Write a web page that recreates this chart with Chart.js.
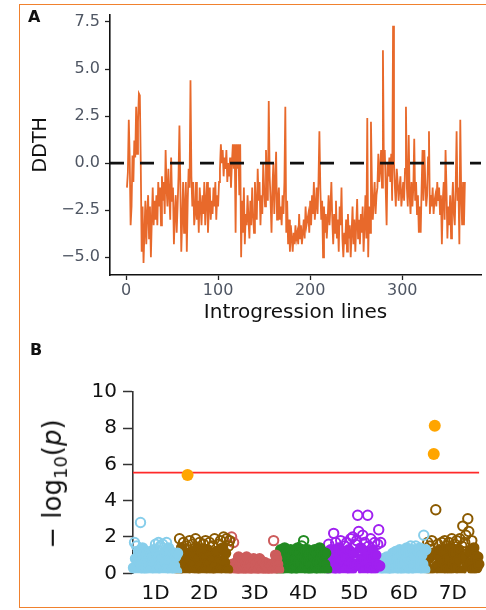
<!DOCTYPE html>
<html>
<head>
<meta charset="utf-8">
<script src="https://cdn.jsdelivr.net/npm/chart.js@4.4.0/dist/chart.umd.min.js"></script>
<style>
  body { margin: 0; background: #fff; }
  #figura { position: relative; width: 486px; height: 610px; overflow: hidden; font-family: "DejaVu Sans", sans-serif; }
  #moldura { position: absolute; left: 19px; top: 4px; width: 480px; height: 602px; border: 1.5px solid #f0812e; }
  canvas { position: absolute; left: 0; }
  #graficoA { top: 0; }
  #graficoB { top: 330px; }
  .painel { position: absolute; font-weight: bold; font-size: 16px; color: #111; }
  #tituloYB { position: absolute; left: 54px; top: 484px; transform: translate(-50%, -50%) rotate(-90deg);
              font-size: 26px; white-space: nowrap; color: #111; }
  #tituloYB sub { font-size: 18px; }
</style>
</head>
<body>
<div id="figura">
  <div id="moldura"></div>
  <canvas id="graficoA" width="486" height="330"></canvas>
  <canvas id="graficoB" width="486" height="280"></canvas>
  <div class="painel" style="left:28px; top:7px;">A</div>
  <div class="painel" style="left:30px; top:340px;">B</div>
  <div id="tituloYB">− log<sub>10</sub>(<i>p</i>)</div>
</div>
<script>
// Painel A: DDTH de cada linha de introgressão (linha 1 a 368)
const ddth = [
  -1.3, -0.5, 2.3, 0.3, -3.3, -2.3, 0.4, -1.0, 1.2, 0.3,
  3.0, 0.5, 2.2, 3.7, 3.6, 0.0, -4.7, -2.3, -5.3, -3.7,
  -2.0, -4.3, -2.7, -1.7, -4.0, -2.3, -5.0, -3.0, -1.3, -3.3,
  -2.0, -3.0, -1.7, -3.3, -1.0, -2.3, -1.3, -3.3, -0.7, -2.0,
  -1.0, -2.7, 0.7, -1.3, -2.3, -0.3, -1.7, -3.0, 0.3, -2.0,
  -1.3, -4.3, -2.7, -1.7, -3.7, -2.3, -0.7, 2.0, -1.3, -4.7,
  -3.0, -1.0, -3.7, -2.3, -1.0, -4.7, -2.0, -0.3, -1.3, 4.4,
  -0.7, -2.3, -1.0, -3.3, -2.7, -1.0, -3.0, -2.0, -3.7, -1.3,
  -2.3, -3.3, -1.7, -2.7, -1.0, -3.3, -2.0, -1.0, -3.7, -2.3,
  -1.3, -3.0, -2.0, -2.7, -1.3, -2.3, -1.0, -3.0, -1.7, -2.3,
  -1.0, -0.3, 1.0, 0.0, 0.7, -0.7, 0.3, -0.3, 0.7, -1.0,
  0.0, -0.7, 0.3, -1.3, 0.0, 1.0, -0.3, 1.0, -3.7, 1.0,
  -0.3, 1.0, -1.7, 1.0, -5.0, -2.0, -3.7, -1.3, -4.3, -2.7,
  -3.3, -1.7, -3.0, -4.0, -2.0, -3.3, -1.3, -2.7, -3.7, -1.0,
  -2.3, -3.0, -0.3, -2.0, -1.0, -3.3, -1.7, -2.7, 0.0, -1.3,
  -2.3, 0.7, -1.0, -2.0, 3.3, -0.7, -2.0, -3.7, -1.3, 0.0,
  -2.7, -1.0, 0.6, -3.0, -2.0, -1.3, -3.0, -2.3, -3.3, -1.7,
  -2.7, -1.0, 3.0, -3.7, -2.0, -4.3, -3.0, -4.7, -3.3, -4.0,
  -4.7, -3.7, -4.3, -3.3, -4.0, -3.7, -4.3, -2.7, -4.0, -3.3,
  -4.3, -3.7, -3.0, -4.0, -2.3, -3.3, -3.0, -2.7, -3.7, -2.0,
  -3.3, -1.7, -2.7, -1.0, -3.0, -2.3, -1.3, -2.7, -1.0, 1.7,
  -1.3, -3.0, -2.0, -5.0, -2.3, -3.7, -2.7, -4.0, -3.0, -1.7,
  -3.3, -2.3, -1.0, -3.0, -4.3, -2.7, -3.7, -2.0, -4.0, -3.0,
  -4.7, -2.3, -3.3, -1.3, -4.0, -5.0, -3.7, -4.3, -3.0, -4.7,
  -2.7, -4.0, -3.3, -5.0, -3.7, -2.3, -4.3, -3.0, -4.7, -3.3,
  -1.9, -4.0, -3.0, -4.3, -2.7, -3.7, -2.3, -4.7, -3.3, -1.7,
  -4.0, 2.4, -5.0, -2.3, -3.7, 2.2, -1.0, -3.0, -2.0, -1.0,
  -2.7, -1.7, -1.3, 0.5, -1.0, -0.3, 0.7, -1.3, 6.0, 0.0,
  0.7, -1.3, -3.3, 0.0, -0.7, 0.3, -1.0, 0.5, -2.0, 7.3,
  0.0, -1.3, -2.3, -0.3, -1.0, -2.0, -1.3, -0.7, -2.3, -1.7,
  -1.0, -2.0, -0.3, 3.0, -1.3, -2.3, 1.5, -1.7, -2.7, -1.0,
  -2.3, -1.3, 1.3, -2.0, -1.0, -2.7, -1.7, -3.7, -2.3, -3.7,
  -1.3, 0.7, -2.0, 0.7, -1.0, -2.3, -1.7, 0.3, 1.7, -2.7,
  -1.7, -2.3, -1.3, -2.7, -2.0, -1.7, -2.3, -1.0, -2.0, -1.3,
  -2.7, -1.7, -4.3, -2.0, -1.0, -3.0, 0.7, -1.3, -4.0, -2.3,
  -3.3, -1.7, -4.0, -2.3, -1.0, -2.7, -3.3, -1.3, 1.7, -2.0,
  -1.3, -4.3, 2.3, -1.7, -3.3, -1.0, -3.3, -1.0
];
const ticksXA = [0, 100, 200, 300];
const ticksYA = [-5, -2.5, 0, 2.5, 5, 7.5];
const limitesXA = [-17.4, 385.5];
const limitesYA = [-5.94, 7.89];

// Painel B: -log10(p) dos marcadores, por cromossomo (em ordem de posição)
const cromossomos = ['1D', '2D', '3D', '4D', '5D', '6D', '7D'];
const coresCrom = ['#87CEEB', '#8B5A00', '#CD5C5C', '#228B22', '#A020F0', '#87CEEB', '#8B5A00'];
const logp1D = [
  0.3, 1.7, 0.8, 1.5, 0.1, 1.2, 0.6, 2.8, 0.4, 1.4,
  0.9, 0.2, 1.2, 0.7, 1.1, 0.1, 0.5, 1.2, 0.3, 0.9,
  1.3, 0.6, 1.6, 0.2, 1.0, 1.7, 0.4, 1.5, 0.8, 1.6,
  0.1, 1.2, 0.6, 1.7, 0.3, 1.4, 0.9, 1.2, 0.2, 0.7,
  1.1, 0.4, 0.9, 0.1, 1.1
];
const logp2D = [
  0.2, 1.9, 0.9, 1.4, 0.4, 1.7, 1.1, 0.1, 1.5, 5.41,
  0.7, 1.8, 0.3, 1.2, 1.6, 0.5, 1.0, 1.9, 0.2, 1.4,
  0.8, 1.7, 0.4, 1.2, 0.1, 1.6, 0.9, 1.8, 0.3, 1.3,
  0.6, 1.7, 1.0, 0.2, 1.5, 0.8, 1.9, 0.4, 1.2, 0.1,
  1.6, 0.7, 1.8, 0.3, 1.4, 2.0, 0.6, 1.1, 1.9, 0.2,
  1.5, 1.8
];
const logp3D = [
  0.3, 2.0, 0.5, 1.7, 0.1, 0.4, 0.6, 0.2, 0.9, 0.3,
  0.5, 0.1, 0.8, 0.4, 0.2, 0.6, 0.9, 0.1, 0.5, 0.3,
  0.7, 0.2, 0.4, 0.8, 0.1, 0.5, 0.3, 0.6, 0.2, 0.8,
  0.4, 0.1, 0.5, 0.3, 0.6, 0.2, 0.4, 0.1, 0.3, 0.5,
  0.2, 0.4, 0.1, 1.8, 0.3, 1.0, 0.8, 0.5, 0.2
];
const logp4D = [
  0.2, 1.3, 0.7, 1.1, 0.3, 1.4, 0.5, 0.9, 0.1, 1.2,
  0.6, 1.3, 0.4, 1.0, 0.2, 1.2, 0.8, 0.3, 1.4, 0.6,
  1.1, 0.1, 1.5, 0.9, 1.8, 0.4, 1.2, 0.7, 1.3, 0.2,
  1.0, 0.5, 1.2, 0.1, 0.9, 1.3, 0.4, 1.1, 0.6, 0.2,
  1.4, 0.8, 1.2, 0.3, 1.0, 0.5, 1.1, 0.2
];
const logp5D = [
  0.3, 1.6, 0.8, 1.3, 0.1, 1.1, 2.2, 0.5, 1.7, 0.2,
  1.0, 1.4, 0.4, 1.8, 0.7, 1.2, 0.1, 1.5, 0.9, 1.7,
  0.3, 1.3, 0.6, 1.9, 0.2, 2.0, 1.1, 0.5, 1.6, 1.8,
  3.2, 2.3, 0.4, 1.4, 0.8, 2.1, 0.1, 1.7, 1.2, 0.6,
  3.2, 1.5, 0.3, 1.9, 0.9, 1.3, 0.2, 1.7, 1.0, 0.5,
  1.6, 2.4, 0.4, 1.7
];
const logp6D = [
  0.2, 0.8, 0.4, 0.6, 0.1, 0.9, 0.3, 0.7, 0.2, 0.8,
  0.5, 1.1, 0.1, 0.7, 1.2, 0.3, 0.9, 0.5, 1.3, 0.2,
  1.0, 0.6, 1.2, 0.1, 0.8, 1.4, 0.4, 1.1, 0.2, 1.5,
  0.7, 1.3, 0.3, 0.9, 1.5, 0.1, 1.2, 0.6, 1.4, 0.3,
  1.0, 0.5, 2.1, 0.2, 1.3
];
const logp7D = [
  0.3, 1.7, 0.8, 1.5, 0.2, 1.8, 1.1, 6.57, 8.13, 3.5,
  0.4, 1.6, 0.9, 1.3, 0.1, 1.7, 0.6, 1.2, 1.8, 0.3,
  1.5, 0.8, 1.7, 0.2, 1.4, 1.9, 0.5, 1.1, 1.6, 0.3,
  1.8, 0.7, 1.3, 1.9, 0.1, 1.5, 2.6, 0.9, 1.7, 2.1,
  0.4, 3.0, 2.3, 1.2, 0.6, 1.8, 0.2, 1.4, 1.0, 0.8,
  0.3, 0.9, 0.5
];
const logpPorCrom = [logp1D, logp2D, logp3D, logp4D, logp5D, logp6D, logp7D];
const ticksYB = [0, 2, 4, 6, 8, 10];
const limiar = 5.54;     // linha vermelha
const corteSinal = 5.0;  // pontos acima disso ficam laranja
const corteDenso = 1.5;  // abaixo disso os círculos se sobrepõem (massa sólida)

// Gráfico A: linha de DDTH com referência tracejada em zero
function gerarGraficoA() {
  const ctx = document.getElementById('graficoA').getContext('2d');
  const pontos = ddth.map((v, i) => ({ x: i + 1, y: v }));
  new Chart(ctx, {
    type: 'line',
    data: {
      datasets: [
        {
          data: [{ x: limitesXA[0], y: 0 }, { x: limitesXA[1], y: 0 }],
          borderColor: '#111',
          borderWidth: 2.8,
          borderDash: [14, 16],
          pointRadius: 0
        },
        {
          data: pontos,
          borderColor: '#e8692b',
          borderWidth: 1.8,
          pointRadius: 0,
          tension: 0
        }
      ]
    },
    options: {
      responsive: false,
      devicePixelRatio: 1,
      animation: false,
      layout: { padding: { top: 13, right: 5, left: 0, bottom: 0 } },
      plugins: { legend: { display: false }, tooltip: { enabled: false } },
      scales: {
        x: {
          type: 'linear',
          min: limitesXA[0],
          max: limitesXA[1],
          afterBuildTicks: s => { s.ticks = ticksXA.map(v => ({ value: v })); },
          afterFit: s => { s.height = 55; },
          ticks: { font: { family: 'DejaVu Sans', size: 16 }, color: '#4f5663', padding: 1 },
          grid: { drawOnChartArea: false, tickLength: 5, tickColor: '#222', tickWidth: 1.3 },
          border: { color: '#111', width: 1.6 },
          title: {
            display: true, text: 'Introgression lines', color: '#111',
            font: { family: 'DejaVu Sans', size: 20 }, padding: { top: 0, bottom: 5 }
          }
        },
        y: {
          min: limitesYA[0],
          max: limitesYA[1],
          afterBuildTicks: s => { s.ticks = ticksYA.map(v => ({ value: v })); },
          afterFit: s => { s.width = 110; },
          ticks: {
            font: { family: 'DejaVu Sans', size: 16 }, color: '#4f5663', padding: 5,
            callback: v => v.toFixed(1).replace('-', '−')
          },
          grid: { drawOnChartArea: false, tickLength: 5, tickColor: '#222', tickWidth: 1.3 },
          border: { color: '#111', width: 1.6 },
          title: {
            display: true, text: 'DDTH', color: '#111',
            font: { family: 'DejaVu Sans', size: 19 }, padding: { top: 30, bottom: 0 }
          }
        }
      }
    }
  });
}

// Gráfico B: Manhattan plot com a linha de limiar
function gerarGraficoB() {
  const ctx = document.getElementById('graficoB').getContext('2d');
  const datasets = [];
  const centros = [];
  let inicio = 0;
  logpPorCrom.forEach((valores, c) => {
    const cor = coresCrom[c];
    centros.push(inicio + valores.length / 2);
    datasets.push({
      data: valores.map((v, j) => ({ x: inicio + j + 0.5, y: v })),
      pointStyle: 'circle',
      pointRadius: p => p.raw.y >= corteSinal ? 6 : 4.7,
      pointBorderWidth: p => p.raw.y >= corteSinal ? 0 : 2,
      pointBackgroundColor: p => {
        if (p.raw.y >= corteSinal) return '#FFA500';
        return p.raw.y < corteDenso ? cor : 'rgba(0,0,0,0)';
      },
      pointBorderColor: cor,
      clip: { left: 8, top: 8, right: 8, bottom: 0 }
    });
    inicio += valores.length;
  });
  const total = inicio;
  // linha de limiar (desenhada por baixo)
  datasets.push({
    data: [{ x: 0, y: limiar }, { x: total, y: limiar }],
    showLine: true,
    borderColor: '#ff2a2a',
    borderWidth: 1.8,
    pointRadius: 0
  });

  new Chart(ctx, {
    type: 'scatter',
    data: { datasets },
    options: {
      responsive: false,
      devicePixelRatio: 1,
      animation: false,
      layout: { padding: { top: 61.7, right: 5, left: 0, bottom: 0 } },
      plugins: { legend: { display: false }, tooltip: { enabled: false } },
      scales: {
        x: {
          type: 'linear',
          min: 0,
          max: total,
          afterBuildTicks: s => { s.ticks = centros.map(v => ({ value: v })); },
          afterFit: s => { s.height = 36.7; },
          ticks: {
            autoSkip: false, maxRotation: 0,
            font: { family: 'DejaVu Sans', size: 20 }, color: '#111', padding: 8,
            callback: (v, i) => cromossomos[i]
          },
          grid: { display: false, drawTicks: false },
          border: { display: false }
        },
        y: {
          min: 0,
          max: 10,
          afterBuildTicks: s => { s.ticks = ticksYB.map(v => ({ value: v })); },
          afterFit: s => { s.width = 133; },
          ticks: { font: { family: 'DejaVu Sans', size: 20 }, color: '#111', padding: 6 },
          grid: { drawOnChartArea: false, tickLength: 10, tickColor: '#333', tickWidth: 1.5 },
          border: { color: '#333', width: 1.6 }
        }
      }
    }
  });
}

gerarGraficoA();
gerarGraficoB();
</script>
</body>
</html>
